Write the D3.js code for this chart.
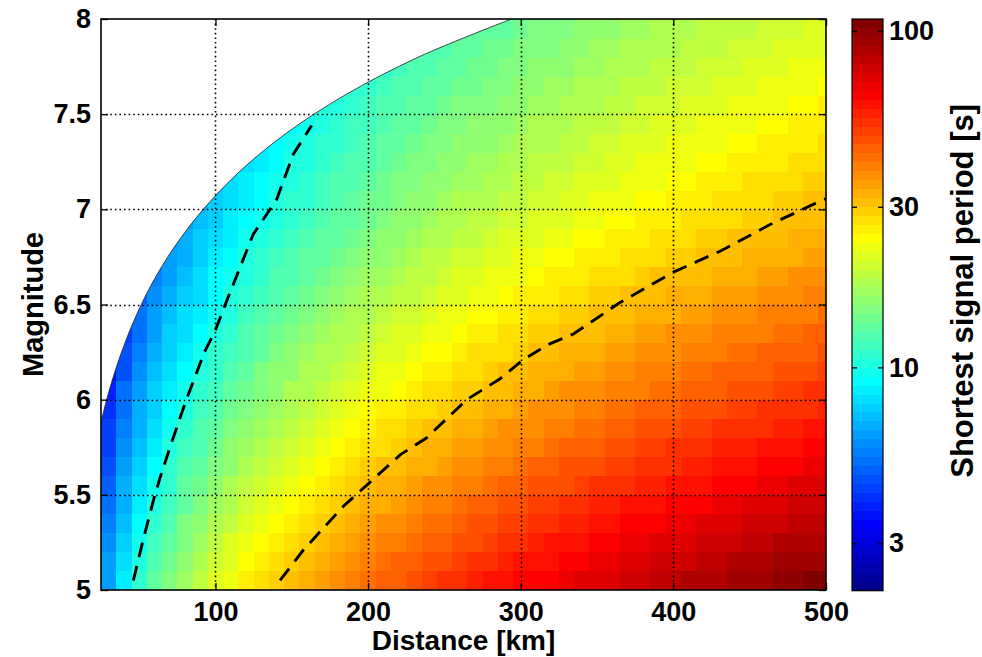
<!DOCTYPE html>
<html><head><meta charset="utf-8">
<script src="https://cdn.jsdelivr.net/npm/d3@7"></script>
<style>
body{margin:0;background:#fff;}
svg{display:block;}
</style></head><body>
<svg id="chart" width="982" height="657"></svg>
<script>
// ---------------- data ----------------
const xTicks = [100, 200, 300, 400, 500];
const yTicks = [5, 5.5, 6, 6.5, 7, 7.5, 8];
const periodTicks = [3, 10, 30, 100];
const periodRange = [2.17, 108.4];           // colour limits [s]
const distanceRange = [25, 500];
const magnitudeRange = [5, 8];
// cell centres
const distances = [30,40,50,60,70,80,90,100,110,120,130,140,150,160,170,180,190,200,210,220,230,240,250,260,270,280,290,300,310,320,330,340,350,360,370,380,390,400,410,420,430,440,450,460,470,480,490,500];
const magnitudes = [5.05,5.15,5.25,5.35,5.45,5.55,5.65,5.75,5.85,5.95,6.05,6.15,6.25,6.35,6.45,6.55,6.65,6.75,6.85,6.95,7.05,7.15,7.25,7.35,7.45,7.55,7.65,7.75,7.85,7.95];
const N = null;
// log10 of shortest signal period [s]; one row per magnitude, one column per distance
const log10Period = [
[0.81,0.94,1.03,1.11,1.17,1.23,1.28,1.33,1.37,1.40,1.44,1.47,1.50,1.53,1.55,1.58,1.60,1.62,1.64,1.66,1.68,1.70,1.72,1.74,1.75,1.77,1.78,1.80,1.81,1.82,1.84,1.85,1.86,1.87,1.89,1.90,1.91,1.92,1.93,1.94,1.95,1.96,1.97,1.98,1.99,2.00,2.01,2.01],
[0.79,0.91,1.01,1.08,1.15,1.21,1.26,1.30,1.34,1.38,1.41,1.44,1.47,1.50,1.53,1.55,1.57,1.60,1.62,1.64,1.65,1.67,1.69,1.71,1.72,1.74,1.75,1.77,1.78,1.79,1.81,1.82,1.83,1.84,1.86,1.87,1.88,1.89,1.90,1.91,1.92,1.93,1.94,1.95,1.96,1.97,1.98,1.98],
[0.77,0.89,0.98,1.06,1.12,1.18,1.23,1.27,1.32,1.35,1.39,1.42,1.45,1.47,1.50,1.52,1.55,1.57,1.59,1.61,1.63,1.64,1.66,1.68,1.69,1.71,1.72,1.74,1.75,1.77,1.78,1.79,1.80,1.82,1.83,1.84,1.85,1.86,1.87,1.88,1.89,1.90,1.91,1.92,1.93,1.94,1.95,1.95],
[0.74,0.86,0.96,1.03,1.10,1.16,1.20,1.25,1.29,1.33,1.36,1.39,1.42,1.45,1.47,1.50,1.52,1.54,1.56,1.58,1.60,1.62,1.63,1.65,1.67,1.68,1.70,1.71,1.72,1.74,1.75,1.76,1.77,1.79,1.80,1.81,1.82,1.83,1.84,1.85,1.86,1.87,1.88,1.89,1.90,1.91,1.92,1.92],
[0.72,0.84,0.93,1.01,1.07,1.13,1.18,1.22,1.26,1.30,1.33,1.36,1.39,1.42,1.44,1.47,1.49,1.51,1.53,1.55,1.57,1.59,1.61,1.62,1.64,1.65,1.67,1.68,1.70,1.71,1.72,1.73,1.75,1.76,1.77,1.78,1.79,1.80,1.81,1.82,1.83,1.84,1.85,1.86,1.87,1.88,1.89,1.90],
[0.70,0.82,0.91,0.99,1.05,1.11,1.15,1.20,1.24,1.27,1.31,1.34,1.37,1.39,1.42,1.44,1.46,1.49,1.51,1.53,1.54,1.56,1.58,1.59,1.61,1.63,1.64,1.65,1.67,1.68,1.69,1.71,1.72,1.73,1.74,1.75,1.76,1.77,1.78,1.79,1.80,1.81,1.82,1.83,1.84,1.85,1.86,1.87],
[0.68,0.79,0.89,0.96,1.03,1.08,1.13,1.17,1.21,1.25,1.28,1.31,1.34,1.37,1.39,1.42,1.44,1.46,1.48,1.50,1.52,1.53,1.55,1.57,1.58,1.60,1.61,1.63,1.64,1.65,1.67,1.68,1.69,1.70,1.71,1.72,1.73,1.74,1.75,1.76,1.77,1.78,1.79,1.80,1.81,1.82,1.83,1.84],
[0.65,0.77,0.86,0.94,1.00,1.06,1.10,1.15,1.19,1.22,1.25,1.29,1.31,1.34,1.37,1.39,1.41,1.43,1.45,1.47,1.49,1.51,1.52,1.54,1.55,1.57,1.58,1.60,1.61,1.62,1.64,1.65,1.66,1.67,1.68,1.70,1.71,1.72,1.73,1.74,1.75,1.76,1.76,1.77,1.78,1.79,1.80,1.81],
[0.63,0.75,0.84,0.91,0.98,1.03,1.08,1.12,1.16,1.20,1.23,1.26,1.29,1.31,1.34,1.36,1.38,1.41,1.43,1.44,1.46,1.48,1.50,1.51,1.53,1.54,1.56,1.57,1.58,1.60,1.61,1.62,1.63,1.65,1.66,1.67,1.68,1.69,1.70,1.71,1.72,1.73,1.74,1.74,1.75,1.76,1.77,1.78],
[0.61,0.73,0.82,0.89,0.95,1.01,1.06,1.10,1.14,1.17,1.20,1.23,1.26,1.29,1.31,1.34,1.36,1.38,1.40,1.42,1.44,1.45,1.47,1.49,1.50,1.52,1.53,1.54,1.56,1.57,1.58,1.59,1.61,1.62,1.63,1.64,1.65,1.66,1.67,1.68,1.69,1.70,1.71,1.72,1.73,1.73,1.74,1.75],
[0.59,0.71,0.79,0.87,0.93,0.98,1.03,1.07,1.11,1.15,1.18,1.21,1.24,1.26,1.29,1.31,1.33,1.35,1.37,1.39,1.41,1.43,1.44,1.46,1.47,1.49,1.50,1.52,1.53,1.54,1.56,1.57,1.58,1.59,1.60,1.61,1.62,1.63,1.64,1.65,1.66,1.67,1.68,1.69,1.70,1.71,1.72,1.72],
[0.57,0.68,0.77,0.85,0.91,0.96,1.01,1.05,1.09,1.13,1.16,1.19,1.21,1.24,1.26,1.29,1.31,1.33,1.35,1.37,1.39,1.40,1.42,1.43,1.45,1.46,1.48,1.49,1.51,1.52,1.53,1.54,1.55,1.57,1.58,1.59,1.60,1.61,1.62,1.63,1.64,1.65,1.65,1.66,1.67,1.68,1.69,1.70],
[N,0.66,0.75,0.83,0.89,0.94,0.99,1.03,1.07,1.10,1.13,1.16,1.19,1.22,1.24,1.26,1.29,1.31,1.33,1.34,1.36,1.38,1.39,1.41,1.43,1.44,1.45,1.47,1.48,1.49,1.51,1.52,1.53,1.54,1.55,1.56,1.57,1.58,1.59,1.60,1.61,1.62,1.63,1.64,1.65,1.65,1.66,1.67],
[N,0.65,0.73,0.81,0.87,0.92,0.97,1.01,1.05,1.08,1.11,1.14,1.17,1.19,1.22,1.24,1.26,1.28,1.30,1.32,1.34,1.35,1.37,1.39,1.40,1.42,1.43,1.44,1.46,1.47,1.48,1.49,1.50,1.52,1.53,1.54,1.55,1.56,1.57,1.58,1.59,1.59,1.60,1.61,1.62,1.63,1.64,1.65],
[N,N,0.71,0.79,0.85,0.90,0.94,0.99,1.02,1.06,1.09,1.12,1.15,1.17,1.20,1.22,1.24,1.26,1.28,1.30,1.31,1.33,1.35,1.36,1.38,1.39,1.41,1.42,1.43,1.44,1.46,1.47,1.48,1.49,1.50,1.51,1.52,1.53,1.54,1.55,1.56,1.57,1.58,1.59,1.60,1.60,1.61,1.62],
[N,N,0.69,0.77,0.83,0.88,0.92,0.97,1.00,1.04,1.07,1.10,1.12,1.15,1.17,1.20,1.22,1.24,1.26,1.27,1.29,1.31,1.32,1.34,1.35,1.37,1.38,1.40,1.41,1.42,1.43,1.44,1.46,1.47,1.48,1.49,1.50,1.51,1.52,1.53,1.54,1.55,1.55,1.56,1.57,1.58,1.59,1.60],
[N,N,N,0.75,0.81,0.86,0.91,0.95,0.98,1.02,1.05,1.08,1.10,1.13,1.15,1.17,1.20,1.22,1.23,1.25,1.27,1.29,1.30,1.32,1.33,1.35,1.36,1.37,1.39,1.40,1.41,1.42,1.43,1.44,1.45,1.47,1.48,1.49,1.49,1.50,1.51,1.52,1.53,1.54,1.55,1.56,1.56,1.57],
[N,N,N,0.73,0.79,0.84,0.89,0.93,0.96,1.00,1.03,1.06,1.08,1.11,1.13,1.15,1.18,1.19,1.21,1.23,1.25,1.27,1.28,1.30,1.31,1.32,1.34,1.35,1.36,1.38,1.39,1.40,1.41,1.42,1.43,1.44,1.45,1.46,1.47,1.48,1.49,1.50,1.51,1.52,1.53,1.53,1.54,1.55],
[N,N,N,N,0.77,0.82,0.87,0.91,0.94,0.98,1.01,1.04,1.06,1.09,1.11,1.13,1.15,1.17,1.19,1.21,1.23,1.24,1.26,1.27,1.29,1.30,1.32,1.33,1.34,1.35,1.37,1.38,1.39,1.40,1.41,1.42,1.43,1.44,1.45,1.46,1.47,1.48,1.49,1.49,1.50,1.51,1.52,1.53],
[N,N,N,N,N,0.80,0.85,0.89,0.93,0.96,0.99,1.02,1.04,1.07,1.09,1.11,1.13,1.15,1.17,1.19,1.21,1.22,1.24,1.25,1.27,1.28,1.30,1.31,1.32,1.33,1.34,1.36,1.37,1.38,1.39,1.40,1.41,1.42,1.43,1.44,1.45,1.45,1.46,1.47,1.48,1.49,1.50,1.50],
[N,N,N,N,N,N,0.83,0.87,0.91,0.94,0.97,1.00,1.03,1.05,1.07,1.10,1.12,1.14,1.15,1.17,1.19,1.21,1.22,1.24,1.25,1.26,1.28,1.29,1.30,1.31,1.33,1.34,1.35,1.36,1.37,1.38,1.39,1.40,1.41,1.42,1.43,1.43,1.44,1.45,1.46,1.47,1.48,1.48],
[N,N,N,N,N,N,N,0.86,0.90,0.93,0.96,0.99,1.01,1.04,1.06,1.08,1.10,1.12,1.14,1.16,1.17,1.19,1.20,1.22,1.23,1.25,1.26,1.27,1.29,1.30,1.31,1.32,1.33,1.34,1.35,1.36,1.37,1.38,1.39,1.40,1.41,1.42,1.43,1.43,1.44,1.45,1.46,1.47],
[N,N,N,N,N,N,N,N,N,0.91,0.94,0.97,1.00,1.02,1.04,1.07,1.09,1.10,1.12,1.14,1.16,1.17,1.19,1.20,1.22,1.23,1.24,1.26,1.27,1.28,1.29,1.30,1.31,1.32,1.34,1.35,1.35,1.36,1.37,1.38,1.39,1.40,1.41,1.42,1.42,1.43,1.44,1.45],
[N,N,N,N,N,N,N,N,N,N,0.93,0.96,0.98,1.01,1.03,1.05,1.07,1.09,1.11,1.13,1.14,1.16,1.17,1.19,1.20,1.21,1.23,1.24,1.25,1.26,1.28,1.29,1.30,1.31,1.32,1.33,1.34,1.35,1.36,1.37,1.37,1.38,1.39,1.40,1.41,1.42,1.42,1.43],
[N,N,N,N,N,N,N,N,N,N,N,N,0.97,0.99,1.01,1.04,1.06,1.07,1.09,1.11,1.13,1.14,1.16,1.17,1.19,1.20,1.21,1.22,1.24,1.25,1.26,1.27,1.28,1.29,1.30,1.31,1.32,1.33,1.34,1.35,1.36,1.37,1.37,1.38,1.39,1.40,1.41,1.41],
[N,N,N,N,N,N,N,N,N,N,N,N,N,0.98,1.00,1.02,1.04,1.06,1.08,1.09,1.11,1.13,1.14,1.16,1.17,1.18,1.20,1.21,1.22,1.23,1.24,1.25,1.26,1.28,1.29,1.30,1.30,1.31,1.32,1.33,1.34,1.35,1.36,1.37,1.37,1.38,1.39,1.40],
[N,N,N,N,N,N,N,N,N,N,N,N,N,N,N,1.01,1.03,1.04,1.06,1.08,1.10,1.11,1.13,1.14,1.15,1.17,1.18,1.19,1.20,1.22,1.23,1.24,1.25,1.26,1.27,1.28,1.29,1.30,1.31,1.31,1.32,1.33,1.34,1.35,1.36,1.36,1.37,1.38],
[N,N,N,N,N,N,N,N,N,N,N,N,N,N,N,N,N,N,1.05,1.06,1.08,1.10,1.11,1.12,1.14,1.15,1.16,1.18,1.19,1.20,1.21,1.22,1.23,1.24,1.25,1.26,1.27,1.28,1.29,1.30,1.31,1.31,1.32,1.33,1.34,1.35,1.35,1.36],
[N,N,N,N,N,N,N,N,N,N,N,N,N,N,N,N,N,N,N,N,1.06,1.08,1.09,1.11,1.12,1.14,1.15,1.16,1.17,1.18,1.19,1.21,1.22,1.23,1.24,1.25,1.25,1.26,1.27,1.28,1.29,1.30,1.31,1.31,1.32,1.33,1.34,1.34],
[N,N,N,N,N,N,N,N,N,N,N,N,N,N,N,N,N,N,N,N,N,N,N,1.09,1.11,1.12,1.13,1.14,1.16,1.17,1.18,1.19,1.20,1.21,1.22,1.23,1.24,1.25,1.26,1.27,1.27,1.28,1.29,1.30,1.31,1.31,1.32,1.33]
];
// edge of the valid (coloured) region
const boundaryDistance  = [25, 28.7, 36.3, 45.8, 57.7, 72.9, 92, 116, 146.4, 184.8, 233, 294];
const boundaryMagnitude = [5.88, 6.0, 6.2, 6.4, 6.6, 6.8, 7.0, 7.2, 7.4, 7.6, 7.8, 8.0];
// dashed iso-period lines (10 s and 30 s)
const contour10Distance  = [46.2, 52.2, 59.3, 63.7, 70.2, 80.9, 92.8, 99.7, 107.4, 124.8, 140, 151, 163];
const contour10Magnitude = [5.05, 5.25, 5.47, 5.59, 5.75, 6.0, 6.25, 6.36, 6.52, 6.87, 7.05, 7.29, 7.44];
const contour30Distance  = [142.3, 157.6, 183.8, 199, 221, 238.4, 264.6, 286.5, 301.7, 318, 334.5, 365, 400, 430.6, 463.4, 498, 500];
const contour30Magnitude = [5.05, 5.21, 5.44, 5.55, 5.71, 5.80, 6.00, 6.11, 6.21, 6.29, 6.345, 6.51, 6.67, 6.78, 6.92, 7.05, 7.055];

// ---------------- chart ----------------
const FONT = "'Liberation Sans', Arial, Helvetica, sans-serif";
const svg = d3.select('#chart');
const plot = {left: 101, right: 826, top: 19, bottom: 590};
const x = d3.scaleLinear(distanceRange, [plot.left, plot.right]);
const y = d3.scaleLinear(magnitudeRange, [plot.bottom, plot.top]);

// MATLAB jet(64)
function jetColors(n) {
  const m = Math.ceil(n / 4), u = [];
  for (let i = 1; i <= m; i++) u.push(i / m);
  for (let i = 1; i < m; i++) u.push(1);
  for (let i = m; i >= 1; i--) u.push(i / m);
  const off = Math.ceil(m / 2) - (n % 4 === 1 ? 1 : 0);
  const R = Array(n).fill(0), G = Array(n).fill(0), B = Array(n).fill(0);
  u.forEach((val, k) => {
    const g = off + k + 1, r = g + m, b = g - m;
    if (g >= 1 && g <= n) G[g - 1] = val;
    if (r >= 1 && r <= n) R[r - 1] = val;
    if (b >= 1 && b <= n) B[b - 1] = val;
  });
  return d3.range(n).map(i => d3.rgb(Math.round(R[i] * 255), Math.round(G[i] * 255), Math.round(B[i] * 255)).formatHex());
}
const jet = jetColors(64);
const logMin = Math.log10(periodRange[0]), logMax = Math.log10(periodRange[1]);
const level = d3.scaleLinear([logMin, logMax], [0, 64]);
const colorOf = v => jet[Math.max(0, Math.min(63, Math.floor(level(v))))];

svg.append('defs').append('clipPath').attr('id', 'clip')
  .append('rect').attr('x', plot.left).attr('y', plot.top)
  .attr('width', plot.right - plot.left).attr('height', plot.bottom - plot.top);

const halfW = (distances[1] - distances[0]) / 2;
const halfH = (magnitudes[1] - magnitudes[0]) / 2;
const cells = [];
log10Period.forEach((row, i) => row.forEach((v, j) => {
  if (v !== null) cells.push({d: distances[j], m: magnitudes[i], v});
}));
const gCells = svg.append('g').attr('clip-path', 'url(#clip)');
gCells.selectAll('rect').data(cells).join('rect')
  .attr('x', c => x(c.d - halfW))
  .attr('y', c => y(c.m + halfH))
  .attr('width', c => x(c.d + halfW) - x(c.d - halfW) + 0.5)
  .attr('height', c => y(c.m - halfH) - y(c.m + halfH) + 0.5)
  .attr('fill', c => colorOf(c.v))
  .attr('shape-rendering', 'crispEdges');

// white masked region + its edge
const bpts = boundaryDistance.map((d, i) => [d, boundaryMagnitude[i]]);
const edge = d3.line().x(p => x(p[0])).y(p => y(p[1])).curve(d3.curveCatmullRom);
const gMask = svg.append('g').attr('clip-path', 'url(#clip)');
gMask.append('path')
  .attr('d', edge(bpts) + `L${x(distanceRange[1])},${y(magnitudeRange[1]) - 5}L${x(distanceRange[0]) - 5},${y(magnitudeRange[1]) - 5}Z`)
  .attr('fill', '#fff');
gMask.append('path').attr('d', edge(bpts)).attr('fill', 'none')
  .attr('stroke', '#333').attr('stroke-width', 0.9);

// grid
const gGrid = svg.append('g');
xTicks.filter(t => t > distanceRange[0] && t < distanceRange[1]).forEach(t => {
  gGrid.append('line').attr('x1', Math.round(x(t)) + 0.5).attr('x2', Math.round(x(t)) + 0.5)
    .attr('y1', plot.top).attr('y2', plot.bottom);
});
yTicks.filter(t => t > magnitudeRange[0] && t < magnitudeRange[1]).forEach(t => {
  gGrid.append('line').attr('y1', Math.round(y(t)) + 0.5).attr('y2', Math.round(y(t)) + 0.5)
    .attr('x1', plot.left).attr('x2', plot.right);
});
gGrid.selectAll('line').attr('stroke', '#000').attr('stroke-width', 1.6)
  .attr('stroke-dasharray', '1.6,3');

// dashed contours
const cline = d3.line().x(p => x(p[0])).y(p => y(p[1]));
[[contour10Distance, contour10Magnitude], [contour30Distance, contour30Magnitude]].forEach(([ds, ms]) => {
  svg.append('path').attr('clip-path', 'url(#clip)')
    .attr('d', cline(ds.map((d, i) => [d, ms[i]])))
    .attr('fill', 'none').attr('stroke', '#000').attr('stroke-width', 2.9)
    .attr('stroke-dasharray', '15,9');
});

// axes
function styleAxis(g, size) {
  g.select('.domain').remove();
  g.selectAll('.tick line').attr('stroke', '#000').attr('stroke-width', 1.3);
  g.selectAll('text').attr('font-family', FONT).attr('font-weight', 'bold')
    .attr('font-size', size).attr('fill', '#000');
}
const TICK = 7, FS = 27;
svg.append('g').attr('transform', `translate(0,${plot.bottom})`)
  .call(d3.axisBottom(x).tickValues(xTicks).tickSizeInner(-TICK).tickSizeOuter(0).tickPadding(12).tickFormat(d3.format('d')))
  .call(g => styleAxis(g, FS));
svg.append('g').attr('transform', `translate(0,${plot.top})`)
  .call(d3.axisTop(x).tickValues(xTicks).tickSizeInner(-TICK).tickSizeOuter(0).tickFormat(''))
  .call(g => styleAxis(g, FS));
svg.append('g').attr('transform', `translate(${plot.left},0)`)
  .call(d3.axisLeft(y).tickValues(yTicks).tickSizeInner(-TICK).tickSizeOuter(0).tickPadding(10).tickFormat(d3.format('')))
  .call(g => styleAxis(g, FS));
svg.append('g').attr('transform', `translate(${plot.right},0)`)
  .call(d3.axisRight(y).tickValues(yTicks).tickSizeInner(-TICK).tickSizeOuter(0).tickFormat(''))
  .call(g => styleAxis(g, FS));
svg.append('rect').attr('x', plot.left).attr('y', plot.top)
  .attr('width', plot.right - plot.left).attr('height', plot.bottom - plot.top)
  .attr('fill', 'none').attr('stroke', '#000').attr('stroke-width', 1.6);

svg.append('text').attr('x', (plot.left + plot.right) / 2).attr('y', 650)
  .attr('text-anchor', 'middle').attr('font-family', FONT).attr('font-weight', 'bold')
  .attr('font-size', 28).text('Distance [km]');
svg.append('text').attr('transform', `translate(43,${(plot.top + plot.bottom) / 2}) rotate(-90)`)
  .attr('text-anchor', 'middle').attr('font-family', FONT).attr('font-weight', 'bold')
  .attr('font-size', 29).text('Magnitude');

// colorbar
const cb = {left: 852, right: 883, top: 19, bottom: 590.7};
const cy = d3.scaleLog(periodRange, [cb.bottom, cb.top]);
const gCb = svg.append('g');
gCb.selectAll('rect').data(d3.range(64)).join('rect')
  .attr('x', cb.left).attr('width', cb.right - cb.left)
  .attr('y', i => cy(Math.pow(10, level.invert(i + 1))))
  .attr('height', i => cy(Math.pow(10, level.invert(i))) - cy(Math.pow(10, level.invert(i + 1))) + 0.4)
  .attr('fill', i => jet[i]).attr('shape-rendering', 'crispEdges');
svg.append('g').attr('transform', `translate(${cb.right},0)`)
  .call(d3.axisRight(cy).tickValues(periodTicks).tickSizeInner(-5).tickSizeOuter(0).tickPadding(6).tickFormat(d3.format('d')))
  .call(g => styleAxis(g, FS));
svg.append('g').attr('transform', `translate(${cb.left},0)`)
  .call(d3.axisLeft(cy).tickValues(periodTicks).tickSizeInner(-5).tickSizeOuter(0).tickFormat(''))
  .call(g => styleAxis(g, FS));
svg.append('rect').attr('x', cb.left).attr('y', cb.top)
  .attr('width', cb.right - cb.left).attr('height', cb.bottom - cb.top)
  .attr('fill', 'none').attr('stroke', '#000').attr('stroke-width', 1.2);
svg.append('text').attr('transform', `translate(973,${(cb.top + cb.bottom) / 2 - 14}) rotate(-90)`)
  .attr('text-anchor', 'middle').attr('font-family', FONT).attr('font-weight', 'bold')
  .attr('font-size', 31).text('Shortest signal period [s]');
</script>
</body></html>
